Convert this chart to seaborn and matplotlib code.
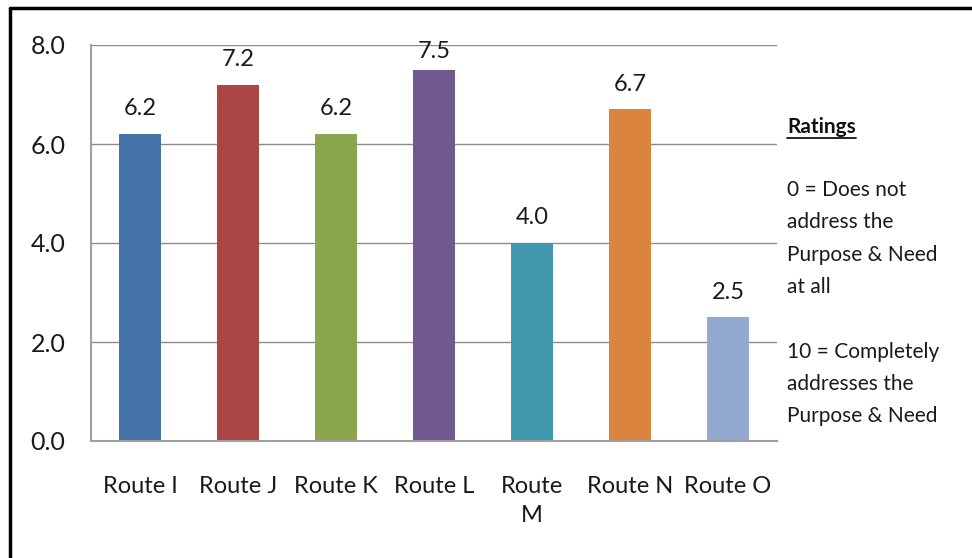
import matplotlib.pyplot as plt
import pandas as pd
import seaborn as sns
from matplotlib.lines import Line2D

routes = ["Route I", "Route J", "Route K", "Route L", "Route\nM", "Route N", "Route O"]
ratings = [6.2, 7.2, 6.2, 7.5, 4.0, 6.7, 2.5]
bar_colors = ["#4572A7", "#AA4643", "#89A54E", "#71588F", "#4198AF", "#DB843D", "#93A9CF"]
y_ticks = [0, 2, 4, 6, 8]
note_title = "Ratings"
note_lines = [
    "0 = Does not",
    "address the",
    "Purpose & Need",
    "at all",
    "",
    "10 = Completely",
    "addresses the",
    "Purpose & Need",
]

data = pd.DataFrame({"route": routes, "rating": ratings})

sns.set_theme(style="white")
plt.rcParams["font.family"] = ["Lato", "DejaVu Sans"]

fig = plt.figure(figsize=(9.72, 5.58), dpi=100)
ax = fig.add_axes([91 / 972, 1 - 441 / 558, 686 / 972, 396 / 558])

sns.barplot(
    data=data,
    x="route",
    y="rating",
    hue="route",
    palette=bar_colors,
    saturation=1,
    legend=False,
    width=0.42,
    linewidth=0,
    ax=ax,
)

ax.set_ylim(0, 8)
ax.set_yticks(y_ticks)
ax.set_yticklabels([f"{t:.1f}" for t in y_ticks], fontsize=18, color="#1a1a1a")
ax.tick_params(axis="y", length=0, pad=18.5)
ax.tick_params(axis="x", length=0, pad=25, labelsize=17, labelcolor="#1a1a1a")
for lab in ax.get_xticklabels():
    lab.set_linespacing(1.5)
ax.set_xlabel("")
ax.set_ylabel("")
ax.yaxis.grid(True, color="#8c8c8c", linewidth=1)
ax.set_axisbelow(True)

sns.despine(ax=ax, top=True, right=True)
for side in ["left", "bottom"]:
    ax.spines[side].set_color("#a0a0a0")
    ax.spines[side].set_linewidth(1.5)

# value labels, kept inside the plot area like Excel does
for i, v in enumerate(ratings):
    ax.text(i, min(v + 0.51, 7.86), f"{v:.1f}", ha="center", va="center",
            fontsize=17, color="#1a1a1a")

# note on the right
fig.text(787 / 972, 1 - 127 / 558, note_title, fontsize=15, fontweight="bold",
         ha="left", va="center", color="#111111")
step = 32.3
for i, line in enumerate(note_lines):
    fig.text(787 / 972, 1 - (190 + i * step) / 558, line, fontsize=15,
             ha="left", va="center", color="#1a1a1a")

# underline for the note title
fig.canvas.draw()
t = fig.texts[0]
bb = t.get_window_extent()
fig.add_artist(Line2D([bb.x0 / 972, bb.x1 / 972], [(bb.y0 - 1) / 558] * 2,
                      color="#111111", linewidth=1.3))

# frame lines at the left and top of the picture
fig.add_artist(Line2D([10 / 972, 10 / 972], [0, 1 - 8 / 558], color="black", linewidth=2.5))
fig.add_artist(Line2D([10 / 972, 1], [1 - 8 / 558, 1 - 8 / 558], color="black", linewidth=2.5))

fig.savefig("out.png", dpi=100)
plt.close()
